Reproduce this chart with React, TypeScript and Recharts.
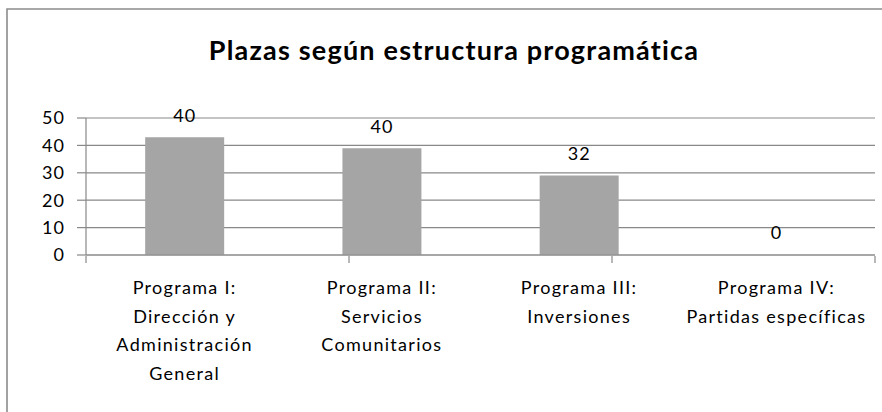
import React from "react";
import { BarChart, Bar, XAxis, YAxis, CartesianGrid, LabelList } from "recharts";

const titleText = "Plazas según estructura programática";
const categories = [
  "Programa I: Dirección y Administración General",
  "Programa II: Servicios Comunitarios",
  "Programa III: Inversiones",
  "Programa IV: Partidas específicas",
];
const categoryLines = [
  ["Programa I:", "Dirección y", "Administración", "General"],
  ["Programa II:", "Servicios", "Comunitarios"],
  ["Programa III:", "Inversiones"],
  ["Programa IV:", "Partidas específicas"],
];
const barValues = [43, 39, 29, 0];
const barLabels = [40, 40, 32, 0];
const yTicks = [0, 10, 20, 30, 40, 50];
const edgeTicks = [0, 1, 2, 3, 4];

const data = categories.map((name, i) => ({
  name,
  value: barValues[i],
  label: barLabels[i],
}));

const FONT = "Lato, 'Noto Sans', sans-serif";
const GRID = "#898989";

const CategoryTick = (props: any) => {
  const { x, y, payload } = props;
  const idx = categories.indexOf(payload.value);
  const lines = categoryLines[idx] || [];
  return (
    <text
      x={x}
      y={y}
      textAnchor="middle"
      fontFamily={FONT}
      fontSize={18}
      letterSpacing={1.3}
      fill="#000"
    >
      {lines.map((l, i) => (
        <tspan key={i} x={x} dy={i === 0 ? 39 : 28.5}>
          {l}
        </tspan>
      ))}
    </text>
  );
};

const EmptyTick = () => <g />;

const BarLabel = (props: any) => {
  const { x, y, width, index } = props;
  return (
    <text
      x={Number(x) + Number(width) / 2}
      y={Number(y) - 15.5}
      textAnchor="middle"
      fontFamily={FONT}
      fontSize={18}
      letterSpacing={1}
      fill="#000"
    >
      {barLabels[index]}
    </text>
  );
};

export default function App() {
  return (
    <div style={{ position: "absolute", left: 0, top: 0, width: 882, height: 412, background: "#fff", overflow: "hidden" }}>
      <BarChart
        width={882}
        height={412}
        data={data}
        margin={{ top: 118, right: 7, bottom: 155, left: 0 }}
        barCategoryGap="30%"
      >
        <CartesianGrid horizontal vertical={false} stroke={GRID} strokeWidth={1.2} />
        <XAxis
          xAxisId="edges"
          type="number"
          domain={[0, 4]}
          ticks={edgeTicks}
          allowDataOverflow
          height={1}
          axisLine={false}
          tick={<EmptyTick />}
          tickLine={{ stroke: GRID, strokeWidth: 1.2 }}
          tickSize={7}
          interval={0}
        />
        <XAxis
          xAxisId="cat"
          dataKey="name"
          type="category"
          height={1}
          axisLine={{ stroke: GRID, strokeWidth: 1.2 }}
          tickLine={false}
          tickSize={0}
          tickMargin={0}
          interval={0}
          tick={<CategoryTick />}
        />
        <YAxis
          width={86}
          domain={[0, 50]}
          ticks={yTicks}
          interval={0}
          axisLine={{ stroke: GRID, strokeWidth: 1.2 }}
          tickLine={{ stroke: GRID, strokeWidth: 1.2 }}
          tickSize={9}
          tickMargin={12}
          tick={{ fontFamily: FONT, fontSize: 18, fill: "#000", letterSpacing: 1 }}
        />
        <Bar
          xAxisId="cat"
          dataKey="value"
          fill="#a5a5a5"
          minPointSize={(v: number) => (v === 0 ? 0.01 : 0)}
          isAnimationActive={false}
        >
          <LabelList dataKey="label" content={<BarLabel />} />
        </Bar>
      </BarChart>
      <svg
        width={882}
        height={412}
        style={{ position: "absolute", left: 0, top: 0, pointerEvents: "none" }}
      >
        <path d="M7 412 L7 9 L882 9" fill="none" stroke="#8c8c8c" strokeWidth={1.6} />
        <text
          x={454}
          y={60}
          textAnchor="middle"
          fontFamily={FONT}
          fontWeight={700}
          fontSize={27}
          letterSpacing={1.2}
          fill="#000"
        >
          {titleText}
        </text>
      </svg>
    </div>
  );
}
